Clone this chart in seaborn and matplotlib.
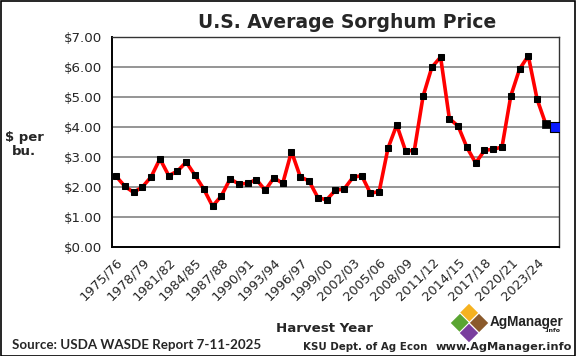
import matplotlib
matplotlib.use("Agg")
import matplotlib.pyplot as plt
import seaborn as sns
import numpy as np
import pandas as pd
from matplotlib.patches import Polygon, Rectangle

# ---- data ----
years = list(range(1975, 2026))
seasons = [f"{y}/{str(y + 1)[-2:]}" for y in years]
prices = [2.36, 2.02, 1.82, 2.00, 2.34, 2.94, 2.38, 2.53, 2.83, 2.39,
          1.93, 1.36, 1.70, 2.27, 2.10, 2.12, 2.25, 1.89, 2.31, 2.12,
          3.18, 2.34, 2.20, 1.65, 1.57, 1.89, 1.93, 2.32, 2.38, 1.79,
          1.85, 3.29, 4.07, 3.21, 3.21, 5.02, 5.99, 6.33, 4.28, 4.03,
          3.32, 2.80, 3.22, 3.26, 3.33, 5.03, 5.93, 6.37, 4.93, 4.09,
          4.00]
label_every = 3
y_ticks = [0, 1, 2, 3, 4, 5, 6, 7]

df = pd.DataFrame({"idx": np.arange(len(seasons)), "season": seasons, "price": prices})

W, H = 576, 356
fig = plt.figure(figsize=(W / 100, H / 100), dpi=100)
sns.set_style("white")
plt.rcParams["font.family"] = ["DejaVu Sans"]

def fx(px):
    return px / W

def fy(py):
    return 1 - py / H

ax = fig.add_axes([fx(111.7), fy(247), fx(559) - fx(111.7), fy(37) - fy(247)])

ax.grid(False)
for v in y_ticks[1:-1]:
    ax.axhline(v, color="#8c8c8c", lw=1.3, zorder=0)

sns.lineplot(data=df.iloc[:-1], x="idx", y="price", ax=ax, color="red", lw=2.6,
             marker="s", markersize=5, markerfacecolor="black", markeredgecolor="black",
             zorder=3)
# connect last projected point
sns.lineplot(data=df.iloc[-2:], x="idx", y="price", ax=ax, color="red", lw=2.6, zorder=2)
sns.scatterplot(data=df.iloc[-1:], x="idx", y="price", ax=ax, marker="s", s=55,
                color="#0a1aff", edgecolor="black", linewidth=0.8, zorder=4)
sns.scatterplot(data=df.iloc[-2:-1], x="idx", y="price", ax=ax, marker="s", s=28,
                color="black", edgecolor="black", linewidth=0.5, zorder=5)

n = len(seasons)
ax.set_xlim(-0.5, n - 0.5)
ax.set_ylim(0, 7)
ax.set_yticks(y_ticks)
ax.set_yticklabels([f"${v:.2f}" for v in y_ticks], fontsize=9.6)
ax.tick_params(axis="y", direction="out", length=4, width=1, pad=3, color="black")

lab_pos = list(range(0, n, label_every))
ax.set_xticks(lab_pos)
ax.set_xticklabels([seasons[i] for i in lab_pos], rotation=45, ha="right",
                   rotation_mode="anchor", fontsize=9.4)
ax.tick_params(axis="x", which="major", length=0, pad=6)
ax.set_xticks(np.arange(-0.5, n - 1, 2), minor=True)
ax.tick_params(axis="x", which="minor", direction="out", length=4, width=1, color="black")
ax.set_xlabel("")
ax.set_ylabel("")

for s in ["left", "bottom"]:
    ax.spines[s].set_color("black")
    ax.spines[s].set_linewidth(1.4)
for s in ["top", "right"]:
    ax.spines[s].set_color("#333333")
    ax.spines[s].set_linewidth(1.0)
    ax.spines[s].set_visible(True)

# texts
fig.text(fx(347), fy(22), "U.S. Average Sorghum Price", fontsize=13.5, fontweight="bold",
         ha="center", va="center")
fig.text(fx(24), fy(145), "$ per\nbu.", fontsize=9.5, fontweight="bold",
         ha="center", va="center", linespacing=1.1)
fig.text(fx(324), fy(329), "Harvest Year", fontsize=9.6, fontweight="bold",
         ha="center", va="center")
fig.text(fx(12), fy(345), "Source: USDA WASDE Report 7-11-2025", fontsize=9.6,
         fontweight="bold", ha="left", va="center", family="Lato")
fig.text(fx(303), fy(347), "KSU Dept. of Ag Econ", fontsize=7.4, fontweight="bold",
         ha="left", va="center")
fig.text(fx(572), fy(347), "www.AgManager.info", fontsize=8.2, fontweight="bold",
         ha="right", va="center")

# logo
def diamond(cx, cy, r, col):
    pts = [(fx(cx), fy(cy - r)), (fx(cx + r), fy(cy)), (fx(cx), fy(cy + r)), (fx(cx - r), fy(cy))]
    fig.add_artist(Polygon(pts, closed=True, transform=fig.transFigure, facecolor=col,
                           edgecolor="white", lw=0.8))

diamond(469, 313, 10, "#f5b220")
diamond(460, 323, 10, "#5aa532")
diamond(479, 323, 10, "#8b5a2b")
diamond(469, 333, 10, "#7a3e9d")
fig.text(fx(490), fy(322), "AgManager", fontsize=9.8, fontweight="bold",
         ha="left", va="center", color="#222222", family="Liberation Sans")
fig.text(fx(560), fy(331), ".info", fontsize=4.5, fontweight="bold",
         ha="right", va="center", color="#222222")

fig.add_artist(Rectangle((0.001, 0.001), 0.997, 0.996, transform=fig.transFigure,
                         fill=False, edgecolor="black", lw=1.2))

fig.savefig("out.png", dpi=100)
